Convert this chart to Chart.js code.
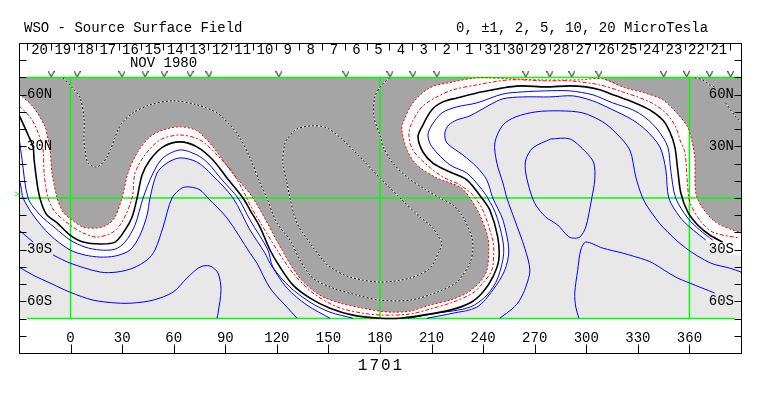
<!DOCTYPE html>
<html>
<head>
<meta charset="utf-8">
<title>WSO Source Surface Field 1701</title>
<script src="https://cdn.jsdelivr.net/npm/chart.js@4"></script>
<style>
  html, body { margin: 0; padding: 0; background: #fff; }
  canvas { display: block; }
</style>
</head>
<body>
<canvas id="my_chart" width="763" height="396"></canvas>
<script>
// axis labels
const lonTicks = [0, 30, 60, 90, 120, 150, 180, 210, 240, 270, 300, 330, 360];
const latTicks = [80, 70, 60, 50, 40, 30, 20, 10, 0, -10, -20, -30, -40, -50, -60, -70, -80];
const latLabels = [[60, '60N'], [30, '30N'], [-30, '30S'], [-60, '60S']];
const dayLabels = ['20', '19', '18', '17', '16', '15', '14', '13', '12', '11', '10', '9', '8', '7', '6', '5', '4', '3', '2', '1', '31', '30', '29', '28', '27', '26', '25', '24', '23', '22', '21'];
const dayTickLons = [-25.3, -11.4, 1.8, 14.9, 27.9, 41.2, 54, 67.2, 80.2, 93.4, 106.2, 119.3, 132.7, 146.1, 159.6, 172.4, 185.2, 198.5, 211.9, 225, 238.3, 252.2, 264.8, 278.8, 291.6, 305, 317.8, 331.2, 344, 357.4, 370.2, 383.4];
const observedLons = [-11.3, 3.8, 29.9, 43.3, 54.4, 69.5, 80.5, 121.2, 160.2, 185.8, 199.1, 213.1, 264.8, 278.8, 291.6, 307.3, 345, 358.4, 371.8, 384];
const gridLons = [0, 180, 360];

// contours, [lon, lat]
const neutralLine = [[-30,48.3],[-24.7,36.6],[-21.8,29.7],[-21.2,22.1],[-18.9,4.7],[-16.6,-4.1],[-13.7,-9.9],[-7.8,-14.5],[-0.3,-21.5],[7.3,-25.6],[17.2,-26.7],[25.9,-25.6],[31.7,-18.6],[35.8,-11],[38.7,0],[41.6,13.4],[46.2,22.1],[53.8,29.7],[63.7,32.6],[73.5,29.7],[82.8,22.1],[91,11.6],[100.3,0],[104.4,-7],[110.2,-16.9],[116,-30.2],[121.8,-40.1],[129.4,-50.6],[139.3,-58.1],[150.9,-64],[164.2,-68],[180,-69.8],[191.6,-69.8],[205,-68],[220.7,-65.1],[232.3,-61],[239.8,-54.7],[245.6,-45.9],[249.1,-36],[248.5,-22.7],[243.9,-7],[239.2,0],[230.5,10.5],[220.7,15.1],[210.8,20.3],[205,26.7],[202.1,35.5],[204.4,41.3],[210.2,51.2],[216.6,55.8],[224.7,58.1],[236.3,61],[245.6,62.8],[255.5,64.5],[263,65.1],[276.4,64.5],[290.4,65.1],[299.7,64.5],[307.8,62.8],[317.2,59.3],[327,55.8],[336.9,51.2],[344.5,45.3],[348.6,38.4],[351.5,29.7],[353.2,16.3],[355,2.9],[359,-8.1],[364.8,-15.7],[371.8,-21.5],[379.3,-25.6]];

const plusOneWest = [[-30,35.5],[-28.2,22.1],[-24.7,0],[-17.7,-9.9],[-9,-17.4],[-0.3,-24.4],[8.4,-28.5],[17.2,-30.2],[25.9,-29.7],[31.7,-25.6],[37.5,-15.7],[42.2,0],[48,14.5],[53.8,23.3],[63.7,27.9],[73.5,25],[79.9,20.3],[88.1,10.5],[97.4,0],[104.4,-12.8],[114.8,-30.2],[117.7,-40.1],[127.6,-51.7],[139.3,-60.5],[150.9,-66.3],[164.2,-69.8]];
const plusOneEast = [[196.2,-69.8],[213.1,-66.9],[232.3,-63.4],[242.2,-56.4],[248.5,-46.5],[252,-30.2],[248,-11],[242.7,0],[238.1,6.4],[230.5,14.5],[220.7,19.2],[210.2,29.7],[207.9,36.6],[210.2,42.4],[216,49.4],[224.7,52.9],[236.3,55.2],[251.5,60.4],[263,61.6],[276.4,62.2],[290.4,62.2],[303.8,59.9],[315.4,55.2],[327,51.2],[334.6,46.5],[341.6,39.5],[347.4,29.7],[349.1,16.3],[352,0],[359,-11.6],[366,-18.6],[373.5,-24.4]];

const plusTwoWest = [[-30,11.6],[-28.8,6.4],[-27.6,0],[-21.8,-9.9],[-11.9,-21.5],[-0.3,-30.2],[8.4,-33.1],[17.2,-34.3],[25.9,-33.7],[34.6,-30.2],[40.4,-21.5],[44.5,-9.9],[46.2,0],[50.3,14.5],[56.1,20.3],[63.7,23.3],[73.5,20.9],[82.3,13.4],[94.5,0],[104.4,-18.6],[113.1,-32],[116,-37.8],[125.9,-52.3],[137.5,-62.2],[150.9,-69.8]];
const plusTwoEast = [[207.3,-69.8],[222.4,-66.9],[236.3,-63.4],[245.6,-53.5],[252.6,-41.9],[254.9,-30.2],[251.5,-12.8],[245.6,0],[242.1,10.5],[236.3,18],[228.2,25],[218.9,32],[217.7,37.8],[220,42.4],[224.7,45.3],[232.3,47.7],[243.9,54.1],[251.5,57.6],[263,58.7],[278.8,58.7],[292.2,59.3],[303.8,56.4],[315.4,51.2],[327,45.3],[334.6,39.5],[342.8,29.7],[346.3,16.3],[348,0],[354.4,-11],[360.2,-16.9],[369.5,-24.4]];
const plusTwoHidden = [[380.5,-31.4],[390,-33.7]]; // under the 30S label

const minusOne = [[-30,53.5],[-23.6,47.1],[-19.5,39.5],[-16,27.9],[-15.4,14.5],[-13.1,0],[-9,-8.1],[-0.3,-15.7],[7.3,-20.3],[15.4,-22.7],[24.7,-19.8],[29.9,-14],[35.8,0],[37.5,14.5],[43.3,25],[52,33.7],[63.7,36.6],[75.3,33.7],[85.2,25],[94.5,14.5],[102.6,0],[104.4,-4.1],[110.2,-14],[120.1,-30.2],[129.4,-43.6],[141,-55.2],[155.5,-63.4],[170.1,-66.9],[181.7,-68],[197.4,-67.4],[209,-64.5],[222.4,-60.5],[234,-55.2],[239.8,-49.4],[245.1,-41.9],[246.2,-30.2],[245.6,-24.4],[239.8,-7],[234,1.7],[226.5,7.6],[216.6,12.2],[207.3,19.2],[199.1,27.9],[196.8,36.6],[198.5,43.6],[204.4,52.9],[213.1,58.7],[222.4,62.8],[236.3,65.7],[255.5,68.6],[276.4,68],[290.4,68],[307.8,65.7],[321.2,61.6],[336.9,55.8],[346.2,49.4],[352,41.3],[354.5,33.7],[357.4,26.2],[359,6.4],[360.2,-2.3],[366,-12.8],[373.5,-19.8],[389.2,-23.3]];

const minusTwoWest = [[-30,60.5],[-21.8,52.9],[-14.8,41.3],[-13.1,33.7],[-11.9,27.9],[-10.8,14.5],[-7.8,0],[-4.4,-8.1],[0.9,-12.8],[7.3,-16.9],[15.4,-17.4],[21.2,-15.7],[25.9,-11],[29.9,0],[33.4,14.5],[38.7,26.2],[46.2,35.5],[53.8,39.5],[63.7,41.3],[73.5,39],[82.8,29.7],[92.7,16.3],[106.1,0],[123,-30.2],[133.4,-46.5],[145,-56.4],[156.7,-61],[170.1,-64],[180,-65.7],[187.5,-66.3],[197.4,-65.7],[209,-62.2],[220.7,-59.3],[230.5,-55.2],[238.1,-48.8],[242.2,-41.9],[243.3,-30.2],[242.7,-22.7],[238.1,-9.9],[232.3,0],[226.5,6.4],[213.1,11.6],[201.5,19.2],[195.7,27.9],[192.7,39.5],[193.3,43.6],[199.1,55.2],[209,64],[222.4,67.4],[236.3,69.8],[243.9,69.8]];
const minusTwoMiddle = [[255.5,69.2],[273,68.6],[296.2,68.6]];
const minusTwoEast = [[309.6,69.2],[322.4,64],[334,61],[344.5,57],[352,50],[359,41.3],[361.3,33.7],[363.1,23.8],[363.7,2.9],[367.7,-5.8],[375.3,-14],[385.2,-18.6],[390,-19.8]];

const plusFiveA = [[-30,-18.6],[-21.8,-25.6]];
const plusFiveB = [[-10.2,-33.1],[-0.3,-37.8],[17.2,-43],[27,-43],[36.3,-40.7],[44.5,-36],[49.1,-30.2],[53.8,-16.9],[59,0],[64.8,5.8],[69.5,6.4],[75.3,4.7],[79.9,0],[91,-11.6],[104.4,-32],[108.4,-37.8],[116,-52.3],[125.9,-63.4],[131.7,-69.8]];
const plusFiveC = [[249.7,-69.8],[257.3,-64],[261.3,-59.3],[264.8,-51.7],[267.2,-41.9],[264.2,-29.1],[258.4,-12.8],[253.8,0],[251.5,8.7],[248,20.3],[246.8,32],[251.5,42.4],[259,47.1],[270.6,50],[284.6,50.6],[298,49.4],[309.6,44.2],[317.2,37.8],[325.3,27.9],[328.8,12.2],[332.8,0],[336.9,-7],[344.5,-16.9],[357.9,-29.1],[372.4,-37.8],[383.4,-40.7],[390,-43]];

const plusTenA = [[-30,-40.1],[-21.8,-44.8],[-11.9,-49.4],[-0.3,-54.7],[13.1,-59.3],[27,-61],[36.3,-61],[48,-59.3],[59.6,-54.7],[67.7,-46.5],[75.3,-40.1],[81.1,-39.5],[85.8,-43.6],[87.5,-53.5],[85.8,-66.9],[85.2,-69.8]];
const plusTenLoop = [[279.4,34.3],[290.4,34.3],[299.7,26.7],[304.4,20.3],[304.9,10.5],[303.2,0],[299.7,-16.9],[296.2,-22.7],[292.2,-23.3],[289.2,-22.1],[283.4,-15.7],[276.4,-11],[270.6,-4.1],[267.7,2.9],[264.8,14.5],[264.8,22.1],[268.9,29.1],[279.4,34.3]];
const plusTenC = [[295.7,-69.8],[293.9,-63.4],[293.3,-55.2],[295,-41.9],[296.8,-30.2],[299.7,-25.6],[309.6,-29.1],[321.2,-32],[334.6,-36],[338.7,-37.8],[352,-45.9],[360.2,-49.4],[374.7,-55.2]];

const minusFiveMain = [[-4.4,69.8],[0.9,64],[5.5,58.1],[7.8,46.5],[7.8,33.7],[8.4,27.9],[10.2,20.3],[15.4,18],[21.2,23.8],[27.6,39.5],[29.9,43.6],[36.3,49.4],[46.2,54.1],[59.6,56.4],[73.5,54.1],[85.2,49.4],[92.7,42.4],[98.5,34.9],[104.4,23.3],[110.2,8.7],[114.2,0],[120,-14.5],[127.6,-24.4],[133.4,-36],[141,-46.5],[152.6,-52.3],[166.6,-56.4],[180,-59.3],[197.4,-59.3],[213.1,-54.7],[224.7,-48.8],[232.3,-37.8],[234,-30.2],[233.4,-22.7],[228.2,-11],[222.4,-4.1],[214.8,0],[205,5.8],[195.7,12.2],[187.5,20.3],[181.7,29.7],[180.5,34.9],[176.5,47.1],[177,58.7],[181.1,65.7],[185.8,69.8]];
const minusFiveEastA = [[363.1,69.8],[367.7,68.6],[371.8,65.7],[374.7,64.5]];
const minusFiveEastB = [[381.1,55.2],[386.9,47.1],[390,44.2]];
const minusTenLoop = [[214.8,-30.2],[216,-26.2],[210.2,-16.9],[203.2,-11],[191.6,0],[180,11.6],[168.3,23.8],[158.4,33.7],[149.1,40.7],[140.4,41.9],[131.7,40.1],[126.5,34.9],[124.7,32],[123.5,20.3],[125.9,8.7],[127.6,0],[131.7,-14.5],[139.3,-26.2],[146.8,-36],[150.9,-40.1],[162.5,-45.9],[180,-48.8],[197.4,-46.5],[209,-40.7],[214.8,-30.2]];

const BLACK = '#000', BLUE = '#0000ff', RED = '#ff0000', GREEN = '#00ff00';
const TEXT_FONT = '14px "Liberation Mono", monospace';
const TENSION = 0.3;

const toXY = pts => pts.map(p => ({ x: p[0], y: p[1] }));
// doubled point keeps the spline from bulging round a corner
const corner = p => [p, p];

function contour(pts, color, width, dash, order) {
  return {
    data: toXY(pts), showLine: true, fill: false, tension: TENSION,
    borderColor: color, borderWidth: width, borderDash: dash || [],
    pointRadius: 0, order: order
  };
}
function area(pts, color, order, tension) {
  return {
    data: toXY(pts), showLine: true, fill: 'shape', tension: tension,
    backgroundColor: color, borderWidth: 0, pointRadius: 0, order: order
  };
}
// black dots on a white line
function dotted(pts) {
  return [contour(pts, BLACK, 1, [2, 2], 3), contour(pts, '#fff', 1, [], 4)];
}

// the little v marks along the top
function vMark() {
  const c = document.createElement('canvas');
  c.width = 7; c.height = 6;
  const g = c.getContext('2d');
  g.strokeStyle = '#000';
  g.lineWidth = 1;
  g.beginPath();
  g.moveTo(0.5, 0);
  g.lineTo(3.5, 5.5);
  g.lineTo(6.5, 0);
  g.stroke();
  return c;
}

const datasets = [
  area([[-30, 70], [390, 70], [390, -70], [-30, -70]], '#e8e8e8', 12, 0),
  area([...corner([-30, 70]), ...corner(plusTwoWest[0]), ...plusTwoWest.slice(1), ...corner([150.9, -70]), ...corner([207.3, -70]), ...plusTwoEast.slice(1), ...plusTwoHidden, ...corner([390, -33.7]), ...corner([390, 70])], '#fff', 11, TENSION),
  area([...corner([-30, 70]), ...corner(minusTwoWest[0]), ...minusTwoWest.slice(1), ...corner([243.9, 70])], '#a5a5a5', 10, TENSION),
  area([...corner([309.6, 70]), ...minusTwoEast, ...corner([390, -19.8]), ...corner([390, 70])], '#a5a5a5', 10, TENSION),

  // green grid
  ...gridLons.map(lon => contour([[lon, 70], [lon, -70]], GREEN, 1.5, [], 8)),
  contour([[-25.3, 70], [390, 70]], GREEN, 1.5, [], 8),
  contour([[-30, 0], [390, 0]], GREEN, 1.5, [], 8),
  contour([[-25.3, -70], [386.3, -70]], GREEN, 1.5, [], 8),

  ...[minusFiveMain, minusFiveEastA, minusFiveEastB, minusTenLoop].flatMap(dotted),

  ...[plusTenA, plusTenLoop, plusTenC, plusFiveA, plusFiveB, plusFiveC, plusTwoWest, plusTwoEast, plusOneWest, plusOneEast]
    .map(pts => contour(pts, BLUE, 1, [], 2)),
  contour(minusOne, RED, 1, [4, 2, 2, 2], 2),
  contour([...minusTwoWest, ...minusTwoMiddle, ...minusTwoEast], RED, 1, [2, 2], 2),
  contour(neutralLine, BLACK, 1.6, [], 1),

  {
    data: observedLons.map(lon => ({ x: lon, y: 71.8 })),
    showLine: false, pointStyle: vMark(), pointRadius: 3, order: 0, clip: false
  }
];

// frame, tick marks and every label
const axesPlugin = {
  id: 'axesPlugin',
  afterDraw(chart) {
    const ctx = chart.ctx, x = chart.scales.x, y = chart.scales.y, a = chart.chartArea;
    ctx.save();
    ctx.strokeStyle = BLACK;
    ctx.fillStyle = BLACK;
    ctx.lineWidth = 1;
    ctx.font = TEXT_FONT;
    ctx.textBaseline = 'middle';
    ctx.strokeRect(a.left + 0.5, a.top + 0.5, a.right - a.left, a.bottom - a.top);

    const seg = (x1, y1, x2, y2) => {
      ctx.beginPath();
      ctx.moveTo(Math.round(x1) + 0.5, Math.round(y1) + 0.5);
      ctx.lineTo(Math.round(x2) + 0.5, Math.round(y2) + 0.5);
      ctx.stroke();
    };

    latTicks.forEach(lat => {
      const py = y.getPixelForValue(lat);
      seg(a.left, py, a.left + 7, py);
      seg(a.right, py, a.right - 7, py);
    });
    lonTicks.forEach(lon => {
      const px = x.getPixelForValue(lon);
      seg(px, a.bottom, px, a.bottom - 9);
    });
    dayTickLons.forEach(lon => {
      const px = x.getPixelForValue(lon);
      seg(px, a.top, px, a.top + 7);
    });

    ctx.textAlign = 'center';
    lonTicks.forEach(lon => ctx.fillText(String(lon), x.getPixelForValue(lon), a.bottom - 15));
    dayLabels.forEach((d, i) => {
      const px = (x.getPixelForValue(dayTickLons[i]) + x.getPixelForValue(dayTickLons[i + 1])) / 2;
      ctx.fillText(d, px + 0.5, a.top + 7);
    });
    ctx.fillText('NOV 1980', 163.5, 63);

    ctx.textAlign = 'left';
    latLabels.forEach(l => ctx.fillText(l[1], a.left + 8, y.getPixelForValue(l[0])));
    ctx.textAlign = 'right';
    latLabels.forEach(l => ctx.fillText(l[1], a.right - 7, y.getPixelForValue(l[0])));

    ctx.textAlign = 'left';
    ctx.fillText('WSO - Source Surface Field', 24, 28);
    ctx.fillText('0, ±1, 2, 5, 10, 20 MicroTesla', 456, 28);

    ctx.textAlign = 'center';
    ctx.font = '16px "Liberation Mono", monospace';
    ctx.letterSpacing = '2px';
    ctx.fillText('1701', 381, 366);
    ctx.letterSpacing = '0px';

    ctx.fillStyle = GREEN;
    ctx.font = '9px "Liberation Mono", monospace';
    ctx.fillText('>', 17, 195);
    ctx.restore();
  }
};

new Chart(document.getElementById('my_chart').getContext('2d'), {
  type: 'scatter',
  data: { datasets: datasets },
  options: {
    responsive: false,
    animation: false,
    events: [],
    layout: { padding: { left: 19, right: 22, top: 43, bottom: 43 } },
    plugins: { legend: { display: false }, title: { display: false }, tooltip: { enabled: false } },
    scales: {
      x: { type: 'linear', min: -30, max: 390, display: false },
      y: { type: 'linear', min: -90, max: 90, display: false }
    }
  },
  plugins: [axesPlugin]
});
</script>
</body>
</html>
